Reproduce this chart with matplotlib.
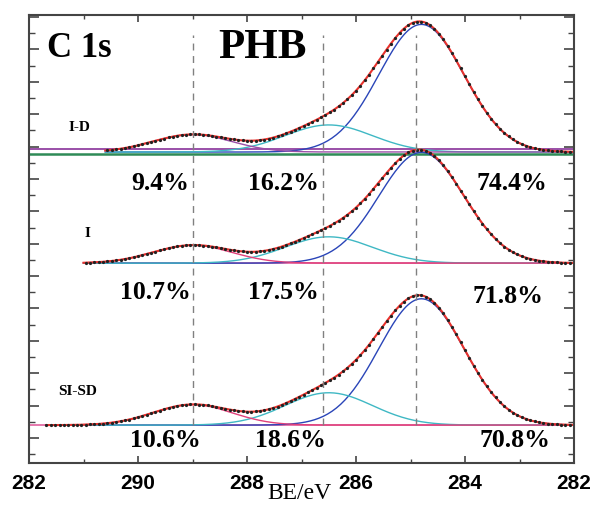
import numpy as np
import matplotlib
matplotlib.use('Agg')
import matplotlib.pyplot as plt
from matplotlib.ticker import MultipleLocator

# C 1s components of PHB: C-C/C-H, C-O, O-C=O
centres = [284.8, 286.5, 289.0]     # eV
sigmas = [0.78, 0.80, 0.72]         # gaussian width, eV
ref_lines = [289.0, 286.6, 284.9]   # dashed guides

samples = ['I-D', 'I', 'SI-SD']
pct_cc = [74.4, 71.8, 70.8]
pct_co = [16.2, 17.5, 18.6]
pct_oco = [9.4, 10.7, 10.6]
main_height = [3.94, 3.42, 3.90]    # height of the C-C peak (a.u.)
offsets = [8.83, 5.40, 0.40]        # vertical offset of each spectrum
be_start = [290.6, 291.0, 291.7]    # high-BE end of each scan

xticks = [292, 290, 288, 286, 284, 282]
xticklabels = ['282', '290', '288', '286', '284', '282']


def gauss(x, c, s):
    return np.exp(-0.5 * ((x - c) / s) ** 2)


fig = plt.figure(figsize=(5.96, 5.07), dpi=100)
ax = fig.add_axes([29 / 596, 44 / 507, 545 / 596, 448 / 507])

serif = ['Liberation Serif', 'DejaVu Serif']
sans = ['Liberation Sans', 'DejaVu Sans']

oco_cols = ['#9a4fa8', '#e0407a', '#e0407a']
base_left = [292.0, 291.0, 292.0]

for i in range(3):
    x = np.arange(282.0, be_start[i] + 1e-9, 0.04)
    base = offsets[i]
    pcts = [pct_cc[i], pct_co[i], pct_oco[i]]
    # component areas follow the quoted percentages
    unit = main_height[i] * sigmas[0] / pct_cc[i]
    comps = [unit * p / s * gauss(x, c, s) for p, c, s in zip(pcts, centres, sigmas)]
    env = base + sum(comps)

    if i == 0:
        ax.plot([292.0, 282.0], [base - 0.06, base - 0.06], color='#2e8b57', lw=1.8)
        ax.plot([292.0, 282.0], [base + 0.1, base + 0.1], color='#9a4fa8', lw=1.4)
    else:
        ax.plot([base_left[i], 282.0], [base, base], color='#e0609e', lw=1.2)
    ax.plot(x, base + comps[0], color='#2a45b8', lw=1.0)
    ax.plot(x, base + comps[1], color='#3fb8c4', lw=1.0)
    ax.plot(x, base + comps[2], color=oco_cols[i], lw=1.0)
    ax.plot(x, env, color='#e8322c', lw=1.5)
    ax.plot(x[::2], env[::2], '.', color='#222222', ms=2.6)

for be in ref_lines:
    ax.plot([be, be], [offsets[2], 12.45], color='#808080', lw=1.0,
            linestyle=(0, (5, 4)))

# percentage labels
lab_x = [[289.60, 287.34, 283.14],
         [289.69, 287.34, 283.21],
         [289.50, 287.21, 283.08]]
lab_y = [7.87, 4.50, -0.06]
for i in range(3):
    for xp, p in zip(lab_x[i], [pct_oco[i], pct_co[i], pct_cc[i]]):
        yy = lab_y[i] - (0.12 if (i == 1 and p == pct_cc[i]) else 0)
        ax.text(xp, yy, f'{p}%', family=serif, fontsize=18.5, fontweight='bold',
                ha='center', va='center')

name_pos = [(291.08, 9.60), (290.92, 6.33), (291.10, 1.45)]
for name, (xp, yp) in zip(samples, name_pos):
    ax.text(xp, yp, name, family=serif, fontsize=11, fontweight='bold',
            ha='center', va='center')

ax.text(291.08, 12.04, 'C 1s', family=serif, fontsize=25, fontweight='bold',
        ha='center', va='center')
ax.text(287.71, 12.04, 'PHB', family=serif, fontsize=31, fontweight='bold',
        ha='center', va='center')

ax.set_xlim(292, 282)
ax.set_ylim(-0.77, 13.06)
ax.set_xticks(xticks)
ax.set_xticklabels(xticklabels, family=sans, fontsize=15, fontweight='bold')
ax.xaxis.set_minor_locator(MultipleLocator(1))
ax.yaxis.set_major_locator(MultipleLocator(1))
ax.yaxis.set_minor_locator(MultipleLocator(0.5))
ax.tick_params(axis='x', which='both', direction='in', top=True, bottom=True,
               color='#444444', pad=8)
ax.tick_params(axis='x', which='major', length=5, width=1.2)
ax.tick_params(axis='x', which='minor', length=3, width=1.0)
ax.tick_params(axis='y', which='both', direction='in', left=True, right=True,
               labelleft=False, color='#444444')
ax.tick_params(axis='y', which='major', length=7, width=1.2)
ax.tick_params(axis='y', which='minor', length=4, width=1.0)
for sp in ax.spines.values():
    sp.set_color('#444444')
    sp.set_linewidth(1.5)

ax.text(0.497, -0.069, 'BE/eV', transform=ax.transAxes, family=serif,
        fontsize=17, ha='center', va='center')

fig.savefig('out.png', dpi=100)
